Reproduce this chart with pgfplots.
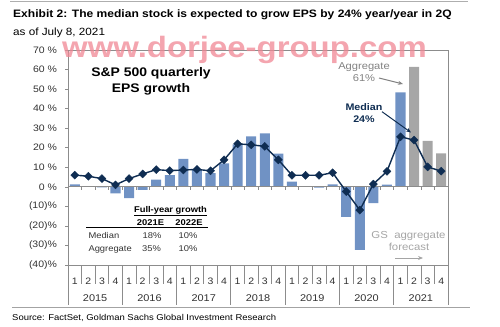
\documentclass[border=0pt]{standalone}
\usepackage{fontspec}
\setmainfont{Liberation Sans}[FakeStretch=1.12]
\usepackage{pgfplots}
\pgfplotsset{compat=1.18}
\usetikzlibrary{arrows.meta}
\definecolor{barblue}{RGB}{112,146,196}
\definecolor{bargray}{RGB}{166,166,166}
\definecolor{navy}{RGB}{15,45,82}
\definecolor{axgray}{RGB}{140,140,140}
\definecolor{labgray}{RGB}{50,50,50}
\definecolor{annogray}{RGB}{130,130,130}
\definecolor{lightanno}{RGB}{165,165,165}
\definecolor{wm}{RGB}{240,135,148}
\tikzset{yearlab/.style={anchor=base, inner sep=0pt, font=\fontsize{9.8}{11}\selectfont, text=labgray}}
\begin{document}
\begin{tikzpicture}[x=1bp,y=1bp]
\path[use as bounding box] (0,0) rectangle (500,326);
\coordinate (AO) at (68,61);
% header
\draw[axgray!70, line width=0.8pt] (10,324.5) -- (468,324.5);
\node[anchor=base west, inner sep=0pt, font=\fontsize{10.8}{13}\selectfont\bfseries] at (13,308.5) {Exhibit 2: The median stock is expected to grow EPS by 24\% year/year in 2Q};
\node[anchor=base west, inner sep=0pt, font=\fontsize{10.5}{12}\selectfont] at (13,291) {as of July 8, 2021};

\begin{axis}[
  at={(AO)}, anchor=south west, scale only axis,
  width=380bp, height=215bp,
  xmin=0.5, xmax=28.5, ymin=-40, ymax=70,
  clip=false,
  axis line style={draw=axgray, line width=0.8pt},
  ytick={-40,-30,-20,-10,0,10,20,30,40,50,60,70},
  yticklabels={(40)\%,(30)\%,(20)\%,(10)\%,0 \%,10 \%,20 \%,30 \%,40 \%,50 \%,60 \%,70 \%},
  ytick pos=left,
  tick align=outside,
  major tick length=3bp,
  y tick style={draw=axgray, line width=0.6pt},
  x tick style={draw=none},
  xtick={1,...,28},
  xticklabels={1,2,3,4,1,2,3,4,1,2,3,4,1,2,3,4,1,2,3,4,1,2,3,4,1,2,3,4},
  yticklabel style={font=\fontsize{9.4}{10}\selectfont, text=labgray, xshift=-4.5bp},
  xticklabel style={font=\fontsize{9.4}{10}\selectfont, text=labgray, anchor=base, yshift=-16.7bp},
  /pgf/number format/assume math mode=true,
]
% blue bars (actual)
\addplot[ybar, bar width=0.74, bar shift=0pt, fill=barblue, draw=none] coordinates {
(1,1.3) (2,0.2) (3,-0.3) (4,-3.3) (5,-5.8) (6,-1.5) (7,3.7) (8,6.0)
(9,14.3) (10,9.0) (11,7.0) (12,12.0) (13,21.7) (14,25.8) (15,27.4) (16,17.0)
(17,2.7) (18,0.3) (19,-0.4) (20,1.3) (21,-15.4) (22,-32.2) (23,-8.4) (24,1.1)
(25,48.3)};
% gray bars (GS aggregate forecast)
\addplot[ybar, bar width=0.74, bar shift=0pt, fill=bargray, draw=none] coordinates {
(26,61.4) (27,23.5) (28,17.1)};
% zero line and ticks
\draw[axgray, line width=0.8pt] (axis cs:0.5,0) -- (axis cs:28.5,0);
\pgfplotsinvokeforeach{1.5,2.5,3.5,4.5,5.5,6.5,7.5,8.5,9.5,10.5,11.5,12.5,13.5,14.5,15.5,16.5,17.5,18.5,19.5,20.5,21.5,22.5,23.5,24.5,25.5,26.5,27.5}{
  \draw[axgray, line width=0.6pt] (axis cs:#1,0) -- ([yshift=-3bp]axis cs:#1,0);
}
% median line
\addplot[navy, line width=1.4pt, mark=square*, mark size=2.85pt, mark options={rotate=45, fill=navy, draw=navy, line width=0.4pt}] coordinates {
(1,6.0) (2,5.4) (3,4.2) (4,1.0) (5,4.2) (6,6.6) (7,8.8) (8,8.3)
(9,8.6) (10,8.9) (11,8.2) (12,13.8) (13,22.0) (14,21.5) (15,20.7) (16,13.8)
(17,5.9) (18,5.9) (19,5.9) (20,7.2) (21,-2.4) (22,-11.9) (23,1.4) (24,7.9)
(25,25.6) (26,23.9) (27,10.2) (28,8.0)};
% category separators
\pgfplotsinvokeforeach{1.5,2.5,3.5,5.5,6.5,7.5,9.5,10.5,11.5,13.5,14.5,15.5,17.5,18.5,19.5,21.5,22.5,23.5,25.5,26.5,27.5}{
  \draw[axgray, line width=0.6pt] (axis cs:#1,-40) -- (axis cs:#1,-49.7);
}
\pgfplotsinvokeforeach{0.5,4.5,8.5,12.5,16.5,20.5,24.5,28.5}{
  \draw[axgray, line width=0.8pt] (axis cs:#1,-40) -- (axis cs:#1,-60.5);
}
% years
\node[yearlab] at (axis cs:2.5,-58.8) {2015};
\node[yearlab] at (axis cs:6.5,-58.8) {2016};
\node[yearlab] at (axis cs:10.5,-58.8) {2017};
\node[yearlab] at (axis cs:14.5,-58.8) {2018};
\node[yearlab] at (axis cs:18.5,-58.8) {2019};
\node[yearlab] at (axis cs:22.5,-58.8) {2020};
\node[yearlab] at (axis cs:26.5,-58.8) {2021};
\end{axis}

% inner title
\node[anchor=base, inner sep=0pt, font=\fontsize{12.5}{14}\selectfont\bfseries] at (151,249.3) {S\&P 500 quarterly};
\node[anchor=base, inner sep=0pt, font=\fontsize{12.5}{14}\selectfont\bfseries] at (151,233.7) {EPS growth};

% inset table
\node[anchor=base, inner sep=0pt, font=\fontsize{8.4}{10}\selectfont\bfseries] at (170.5,114) {\underline{Full-year growth}};
\node[anchor=base, inner sep=0pt, font=\fontsize{8.4}{10}\selectfont\bfseries] at (150.5,100.3) {2021E};
\node[anchor=base, inner sep=0pt, font=\fontsize{8.4}{10}\selectfont\bfseries] at (189,100.3) {2022E};
\draw[black, line width=0.9pt] (86,98.3) -- (208,98.3);
\node[anchor=base west, inner sep=0pt, font=\fontsize{8.4}{10}\selectfont, text=labgray] at (88.3,87.7) {Median};
\node[anchor=base, inner sep=0pt, font=\fontsize{8.4}{10}\selectfont, text=labgray] at (152,87.7) {18\%};
\node[anchor=base, inner sep=0pt, font=\fontsize{8.4}{10}\selectfont, text=labgray] at (188,87.7) {10\%};
\node[anchor=base west, inner sep=0pt, font=\fontsize{8.4}{10}\selectfont, text=labgray] at (88.3,74.3) {Aggregate};
\node[anchor=base, inner sep=0pt, font=\fontsize{8.4}{10}\selectfont, text=labgray] at (151.5,74.3) {35\%};
\node[anchor=base, inner sep=0pt, font=\fontsize{8.4}{10}\selectfont, text=labgray] at (188,74.3) {10\%};

% annotations
\node[anchor=base, inner sep=0pt, font=\fontsize{10}{12}\selectfont, text=annogray] at (364,256.7) {Aggregate};
\node[anchor=base, inner sep=0pt, font=\fontsize{10}{12}\selectfont, text=annogray] at (364,244.3) {61\%};
\draw[annogray, line width=1pt, -{Stealth[length=5pt,width=4pt]}] (379,248) -- (403,242);
\node[anchor=base, inner sep=0pt, font=\fontsize{9.6}{12}\selectfont\bfseries, text=navy] at (364,216) {Median};
\node[anchor=base, inner sep=0pt, font=\fontsize{9.6}{12}\selectfont\bfseries, text=navy] at (364,203.3) {24\%};
\draw[navy, line width=1pt, -{Stealth[length=5pt,width=4pt]}] (382,214.3) -- (411,193.5);
\node[anchor=base, inner sep=0pt, font=\fontsize{10.2}{12}\selectfont, text=lightanno] at (408.5,87.7) {GS\ \ aggregate};
\node[anchor=base, inner sep=0pt, font=\fontsize{10.2}{12}\selectfont, text=lightanno] at (409,75.3) {forecast};
\draw[lightanno, line width=1pt, -{Stealth[length=5pt,width=4pt]}] (395,68) -- (423,68);

% footer
\draw[axgray!80, line width=0.8pt] (12,19) -- (470,19);
\node[anchor=base west, inner sep=0pt, font=\fontsize{8.5}{10}\selectfont] at (12,6) {Source: FactSet, Goldman Sachs Global Investment Research};

% watermark
\node[anchor=base west, inner sep=0pt, font=\fontsize{29.5}{32}\selectfont\bfseries, text=wm, opacity=0.75] at (62,269) {www.dorjee-group.com};
\end{tikzpicture}
\end{document}
